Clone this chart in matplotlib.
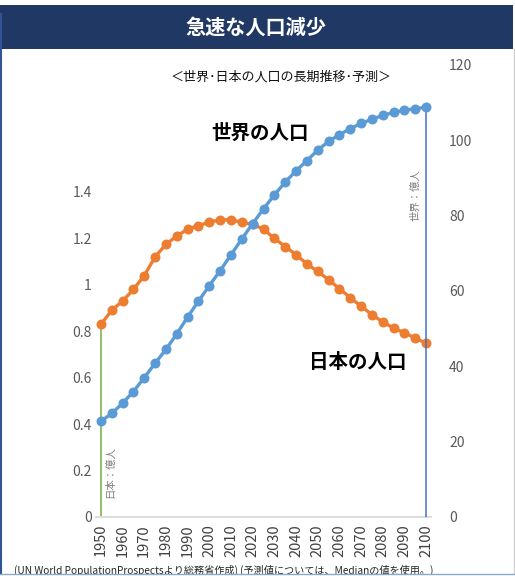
import matplotlib
matplotlib.use("Agg")
import matplotlib.pyplot as plt
from matplotlib.patches import Rectangle
from matplotlib.lines import Line2D

plt.rcParams['font.family'] = ['Noto Sans CJK JP', 'DejaVu Sans']

years = list(range(1950, 2101, 5))
japan = [0.83, 0.89, 0.93, 0.98, 1.04, 1.12, 1.175, 1.21, 1.24, 1.255,
         1.27, 1.28, 1.28, 1.27, 1.26, 1.24, 1.20, 1.165, 1.13, 1.09,
         1.058, 1.022, 0.984, 0.945, 0.908, 0.872, 0.84, 0.814, 0.793,
         0.771, 0.748]
world = [25.4, 27.5, 30.2, 33.3, 37.0, 40.8, 44.5, 48.6, 53.1, 57.3,
         61.4, 65.4, 69.6, 73.8, 77.9, 81.8, 85.5, 88.9, 91.9, 94.6,
         97.4, 99.7, 101.5, 103.1, 104.5, 105.6, 106.6, 107.4, 108.0,
         108.4, 108.8]
xtick_labels = [str(y) for y in range(1950, 2101, 10)]
left_ticks = [0, 0.2, 0.4, 0.6, 0.8, 1, 1.2, 1.4]
left_tick_labels = ['0', '0.2', '0.4', '0.6', '0.8', '1', '1.2', '1.4']
right_ticks = [0, 20, 40, 60, 80, 100, 120]

W, H = 515, 576
fig = plt.figure(figsize=(W / 100, H / 100), dpi=100)
fig.patch.set_facecolor('white')

def fx(px):
    return px / W

def fy(py):
    return 1 - py / H

# banner
fig.patches.append(Rectangle((0, fy(49)), fx(513), fy(5) - fy(49),
                             transform=fig.transFigure, facecolor='#1F3864',
                             edgecolor='none', zorder=0))
fig.text(fx(256), fy(27), '急速な人口減少', color='white', fontsize=14.5,
         fontweight='bold', ha='center', va='center')

# frame lines
fig.lines.append(Line2D([fx(1), fx(1)], [fy(14), fy(576)], transform=fig.transFigure,
                        color='#2F5597', lw=1.5))
fig.lines.append(Line2D([fx(513.5), fx(513.5)], [fy(49), fy(574)], transform=fig.transFigure,
                        color='#D0D0D0', lw=1))

fig.text(fx(281), fy(77), '＜世界･日本の人口の長期推移･予測＞', color='#111111',
         fontsize=9.4, ha='center', va='center')

ax = fig.add_axes([fx(96), fy(517), fx(431) - fx(96), fy(65) - fy(517)])
ax2 = ax.twinx()
idx = list(range(len(years)))

ax.plot(idx, japan, color='#ED7D31', lw=2.4, marker='o', markersize=7.2,
        markeredgewidth=0, zorder=3)
ax2.plot(idx, world, color='#5B9BD5', lw=2.4, marker='o', markersize=7.2,
         markeredgewidth=0, zorder=3)

ax.vlines(idx[0], 0, japan[0], color='#70AD47', lw=1.1, zorder=2)
ax2.vlines(idx[-1], 0, world[-1], color='#4472C4', lw=1.1, zorder=2)

ax.set_xlim(-0.45, len(years) - 0.55)
ax.set_ylim(0, 1.947)
ax2.set_ylim(0, 120)

for a in (ax, ax2):
    for s in a.spines.values():
        s.set_visible(False)
    a.set_facecolor('none')
ax.spines['bottom'].set_visible(True)
ax.spines['bottom'].set_color('#D9D9D9')
ax.spines['bottom'].set_linewidth(1.3)

ax.set_xticks(idx[::2])
ax.set_xticklabels(xtick_labels, rotation=90, fontsize=10.5, color='#404040')
ax.tick_params(axis='x', length=0, pad=5)

ax.set_yticks(left_ticks)
ax.set_yticklabels(left_tick_labels, fontsize=10, color='#595959')
ax.tick_params(axis='y', length=0, pad=3)

ax2.set_yticks(right_ticks)
ax2.set_yticklabels([str(t) for t in right_ticks], fontsize=10, color='#595959')
ax2.tick_params(axis='y', length=0, pad=13)

fig.text(fx(110), fy(472), '日本：億人', rotation=90, fontsize=7.5, color='#7F7F7F',
         ha='center', va='center')
fig.text(fx(415), fy(195), '世界：億人', rotation=90, fontsize=7.5, color='#7F7F7F',
         ha='center', va='center')

fig.text(fx(260), fy(133), '世界の人口', fontsize=14, fontweight='bold', color='black',
         ha='center', va='center')
fig.text(fx(358), fy(363), '日本の人口', fontsize=14, fontweight='bold', color='black',
         ha='center', va='center')

fig.text(fx(14), fy(570), '(UN World PopulationProspectsより総務省作成) (予測値については、Medianの値を使用。)',
         fontsize=7.3, color='#262626', ha='left', va='center')
fig.patches.append(Rectangle((0, 0), 1, fy(574.5), transform=fig.transFigure,
                             facecolor='white', edgecolor='none', zorder=5))
fig.lines.append(Line2D([0, 1], [fy(574), fy(574)], transform=fig.transFigure,
                        color='#8EA9C8', lw=1, zorder=6))

fig.savefig('out.png', dpi=100)
